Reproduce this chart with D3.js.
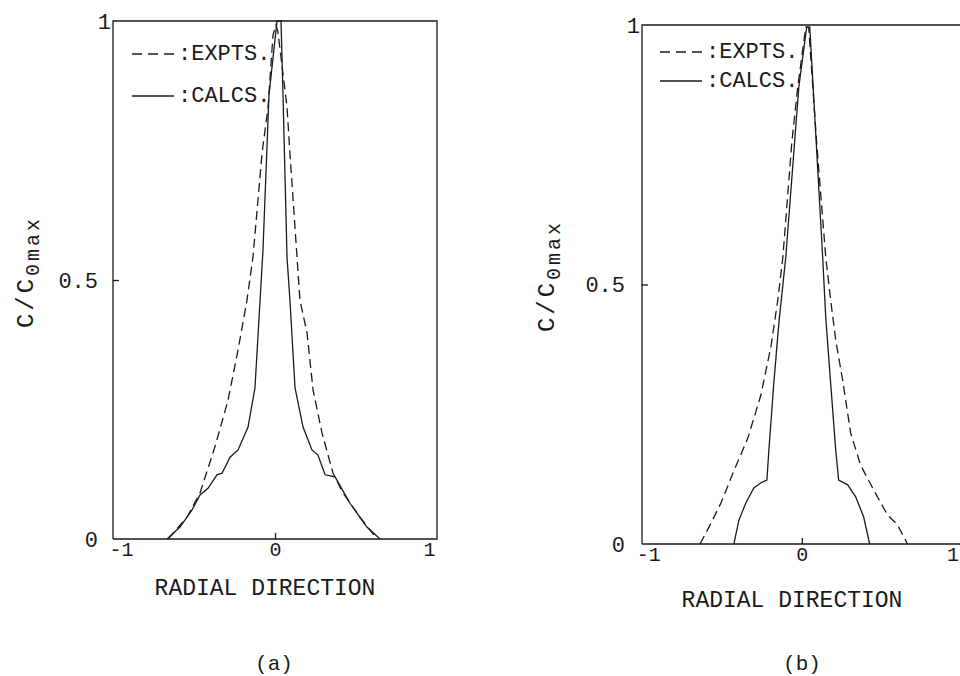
<!DOCTYPE html>
<html>
<head>
<meta charset="utf-8">
<script src="https://cdn.jsdelivr.net/npm/d3@7"></script>
<style>
  body { margin: 0; background: #fff; }
  svg { display: block; font-family: "Liberation Mono", "DejaVu Sans Mono", monospace; }
  .tick line { stroke: #1a1a1a; stroke-width: 1.3; }
  .tick text { fill: #1a1a1a; }
</style>
</head>
<body>
<svg id="chart" width="960" height="676"></svg>
<script>
// panel (a) values
var aExptsX = [-0.695, -0.571, -0.487, -0.39, -0.305, -0.24, -0.182, -0.143, -0.084, -0.045, -0.013, 0.006,
  0.019, 0.078, 0.097, 0.143, 0.162, 0.208, 0.247, 0.305, 0.377, 0.442, 0.552, 0.662];
var aExptsY = [0, 0.042, 0.089, 0.178, 0.268, 0.365, 0.461, 0.544, 0.745, 0.834, 0.973, 0.992,
  0.979, 0.834, 0.745, 0.544, 0.461, 0.398, 0.288, 0.205, 0.127, 0.089, 0.042, 0];
var aCalcsX = [-0.701, -0.617, -0.539, -0.487, -0.435, -0.377, -0.344, -0.292, -0.24, -0.175, -0.13, -0.097, -0.078, -0.039, 0.013,
  0.039, 0.052, 0.078, 0.097, 0.13, 0.182, 0.24, 0.279, 0.325, 0.39, 0.487, 0.597, 0.682];
var aCalcsY = [0, 0.023, 0.056, 0.085, 0.098, 0.124, 0.127, 0.158, 0.172, 0.216, 0.292, 0.461, 0.558, 0.857, 1.0,
  1.0, 0.857, 0.544, 0.461, 0.292, 0.216, 0.172, 0.162, 0.124, 0.12, 0.069, 0.023, 0];

// panel (b)
var bExptsX = [-0.662, -0.591, -0.526, -0.442, -0.351, -0.266, -0.201, -0.156, -0.123, -0.065, -0.026, 0.026,
  0.045, 0.097, 0.156, 0.188, 0.221, 0.266, 0.318, 0.383, 0.468, 0.558, 0.623, 0.688];
var bExptsY = [0, 0.04, 0.079, 0.141, 0.204, 0.287, 0.38, 0.47, 0.553, 0.773, 0.881, 0.996,
  0.996, 0.773, 0.553, 0.47, 0.393, 0.316, 0.214, 0.152, 0.104, 0.056, 0.037, 0];
var bCalcsX = [-0.442, -0.409, -0.364, -0.312, -0.266, -0.227, -0.214, -0.182, -0.149, -0.104, -0.019, 0.032,
  0.052, 0.136, 0.156, 0.188, 0.221, 0.24, 0.299, 0.351, 0.403, 0.442];
var bCalcsY = [0, 0.046, 0.079, 0.108, 0.118, 0.123, 0.181, 0.31, 0.426, 0.553, 0.881, 0.996,
  0.996, 0.553, 0.437, 0.31, 0.181, 0.123, 0.114, 0.091, 0.052, 0];

var xTicks = [-1, 0, 1];
var xTickLabels = ["-1", "0", "1"];
var yTicks = [0, 0.5, 1];
var yTickLabels = ["0", "0.5", "1"];

var ink = "#1a1a1a";
var svg = d3.select("#chart");

function zip(xs, ys) {
	return xs.map(function(v, i) { return [v, ys[i]]; });
}

function drawPanel(p) {
	var x = d3.scaleLinear().domain(p.xDomain).range(p.xRange);
	var y = d3.scaleLinear().domain([0, 1]).range(p.yRange);
	var g = svg.append("g");

	// frame
	var x0 = p.xRange[0], x1 = p.xRange[1], yb = p.yRange[0], yt = p.yRange[1];
	var framePath = "M" + x0 + "," + yb + "V" + yt + "H" + x1 + (p.rightSide ? "V" + yb : "M" + x1 + "," + yb) + "H" + x0;
	g.append("path").attr("d", framePath)
		.attr("fill", "none").attr("stroke", ink).attr("stroke-width", 1.3);

	var xAxis = d3.axisBottom(x).tickValues(xTicks)
		.tickFormat(function(d, i) { return xTickLabels[i]; })
		.tickSize(-6).tickSizeOuter(0).tickPadding(3);
	var gx = g.append("g").attr("transform", "translate(0," + yb + ")").call(xAxis);
	gx.select(".domain").remove();
	gx.selectAll(".tick text").style("font-size", "20px").style("font-family", "Liberation Mono");
	gx.selectAll(".tick line").filter(function(d) { return d !== 0; }).remove();
	// keep the last label inside the page
	if (p.lastLabelShift) {
		gx.selectAll(".tick").filter(function(d) { return d === 1; }).select("text").attr("x", p.lastLabelShift);
	}

	var yAxis = d3.axisLeft(y).tickValues(yTicks)
		.tickFormat(function(d, i) { return yTickLabels[i]; })
		.tickSize(-6).tickSizeOuter(0).tickPadding(p.yPad);
	var gy = g.append("g").attr("transform", "translate(" + x0 + ",0)").call(yAxis);
	gy.select(".domain").remove();
	gy.selectAll(".tick text").style("font-size", "22px").style("font-family", "Liberation Mono");
	gy.selectAll(".tick").filter(function(d) { return d !== 0.5; }).select("line").remove();
	gy.selectAll(".tick").filter(function(d) { return d === 1; }).select("text").attr("x", -2);

	var line = d3.line().x(function(d) { return x(d[0]); }).y(function(d) { return y(d[1]); });

	g.append("path").datum(zip(p.exptsX, p.exptsY)).attr("d", line)
		.attr("fill", "none").attr("stroke", ink).attr("stroke-width", 1.3)
		.attr("stroke-dasharray", "9,5");
	g.append("path").datum(zip(p.calcsX, p.calcsY)).attr("d", line)
		.attr("fill", "none").attr("stroke", ink).attr("stroke-width", 1.3);

	// legend
	var L = p.legend;
	g.append("line").attr("x1", L.x).attr("x2", L.x + 42).attr("y1", L.y1 - 6).attr("y2", L.y1 - 6)
		.attr("stroke", ink).attr("stroke-width", 1.4).attr("stroke-dasharray", "10,6");
	g.append("line").attr("x1", L.x).attr("x2", L.x + 42).attr("y1", L.y2 - 6).attr("y2", L.y2 - 6)
		.attr("stroke", ink).attr("stroke-width", 1.4);
	g.append("text").attr("x", L.x + 46).attr("y", L.y1).attr("fill", ink)
		.style("font-size", "22px").text(":EXPTS.");
	g.append("text").attr("x", L.x + 46).attr("y", L.y2).attr("fill", ink)
		.style("font-size", "22px").text(":CALCS.");

	// axis titles
	g.append("text").attr("x", p.xTitle[0]).attr("y", p.xTitle[1])
		.attr("text-anchor", "middle").attr("fill", ink)
		.style("font-size", "23px").text("RADIAL DIRECTION");

	var yl = g.append("text")
		.attr("transform", "translate(" + p.yTitle[0] + "," + p.yTitle[1] + ") rotate(-90)")
		.attr("text-anchor", "middle").attr("fill", ink)
		.style("font-size", "24px").style("letter-spacing", "3px");
	yl.append("tspan").text("C/C");
	yl.append("tspan").attr("dy", 6).style("font-size", "20px").text("0max");

	g.append("text").attr("x", p.caption[0]).attr("y", p.caption[1])
		.attr("text-anchor", "middle").attr("fill", ink)
		.style("font-size", "21px").text(p.captionText);
}

drawPanel({
	xDomain: [-1.052, 1.052], xRange: [113, 437], yRange: [539, 21], rightSide: true, yPad: 15,
	exptsX: aExptsX, exptsY: aExptsY, calcsX: aCalcsX, calcsY: aCalcsY,
	legend: { x: 132, y1: 60, y2: 102 },
	xTitle: [265, 595], yTitle: [33, 272], caption: [274, 670], captionText: "(a)"
});

drawPanel({
	xDomain: [-1.04, 1.03], xRange: [642, 960], yRange: [544, 25], rightSide: false, yPad: 17,
	exptsX: bExptsX, exptsY: bExptsY, calcsX: bCalcsX, calcsY: bCalcsY,
	legend: { x: 660, y1: 58, y2: 87 },
	xTitle: [792, 607], yTitle: [554, 276], caption: [802, 670], captionText: "(b)",
	lastLabelShift: -3
});
</script>
</body>
</html>
